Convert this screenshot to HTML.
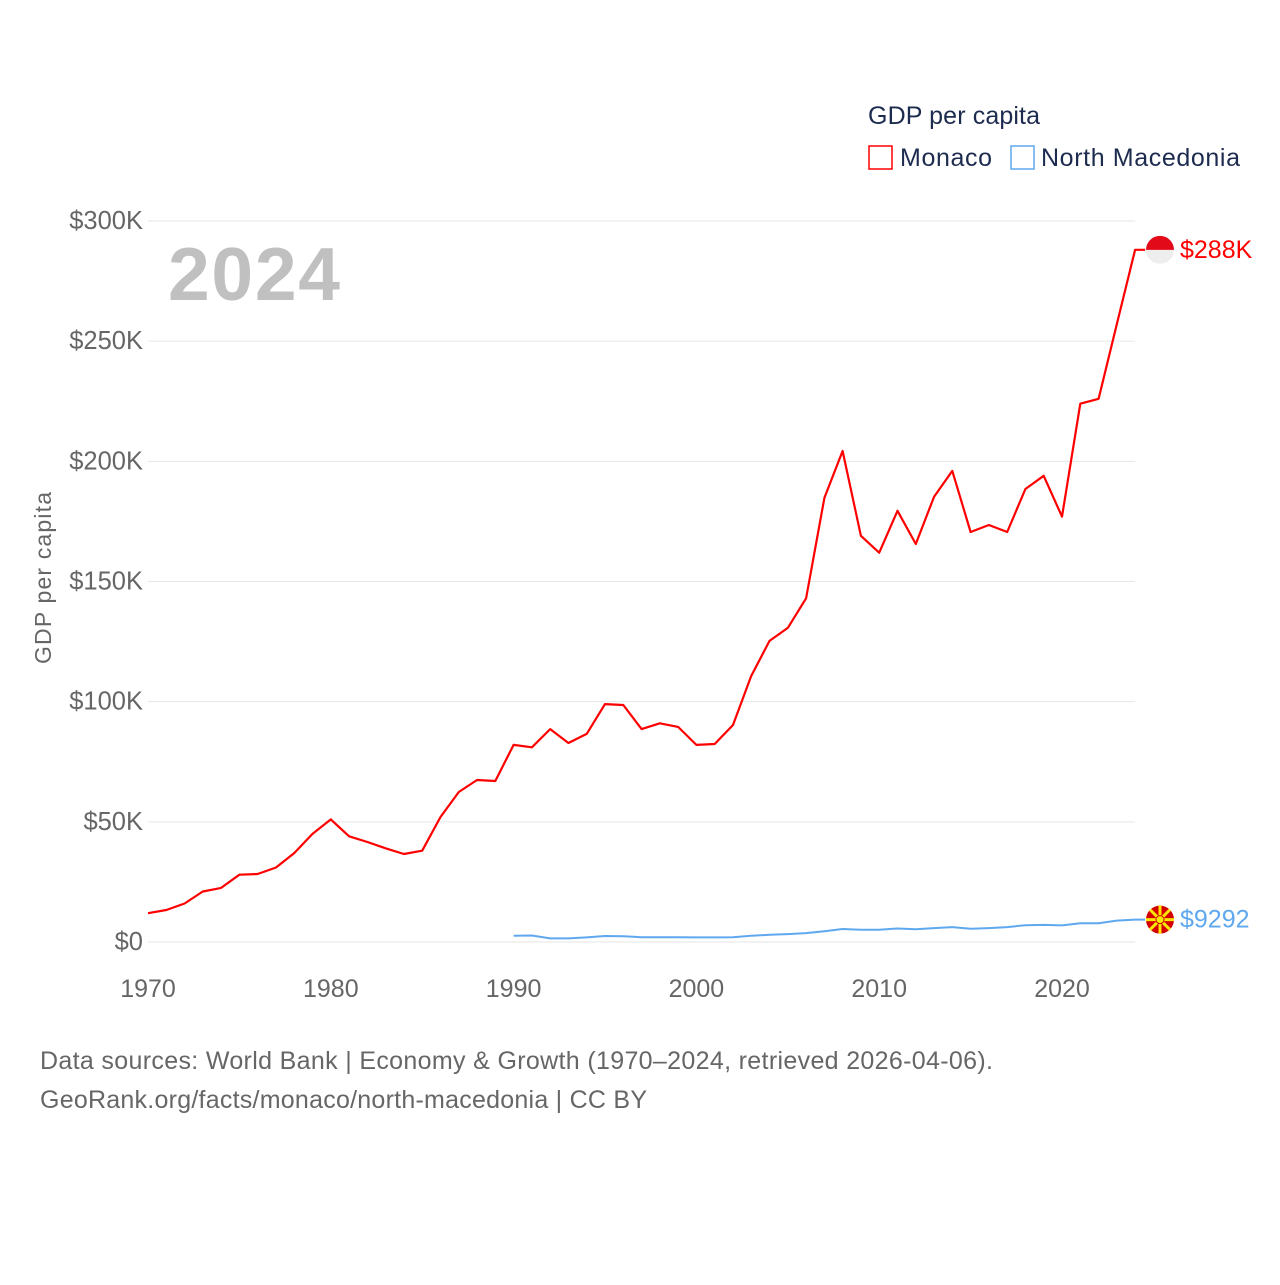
<!DOCTYPE html>
<html><head><meta charset="utf-8"><style>
body{margin:0;background:#fff;}
svg text{font-family:"Liberation Sans",sans-serif;}
</style></head><body>
<svg width="1280" height="1280" viewBox="0 0 1280 1280" id="chart">
<text x="868" y="124" font-size="25" fill="#1d2b4f" textLength="172">GDP per capita</text>
<rect x="869" y="146" width="23" height="23" fill="none" stroke="#ff0000" stroke-width="1.5"/>
<text x="900" y="166" font-size="25" fill="#1d2b4f" textLength="92">Monaco</text>
<rect x="1011" y="146" width="23" height="23" fill="none" stroke="#5fa8ef" stroke-width="1.5"/>
<text x="1041" y="166" font-size="25" fill="#1d2b4f" textLength="199">North Macedonia</text>
<text x="168" y="300" font-size="75" font-weight="bold" fill="#c0c0c0" textLength="172">2024</text>
<text transform="translate(51,578) rotate(-90)" text-anchor="middle" font-size="23" fill="#666" textLength="172">GDP per capita</text>
<g id="grid"></g><g id="lines"></g>
<text x="40" y="1069" font-size="25" fill="#666" textLength="953">Data sources: World Bank | Economy &amp; Growth (1970–2024, retrieved 2026-04-06).</text>
<text x="40" y="1108" font-size="25" fill="#666" textLength="607">GeoRank.org/facts/monaco/north-macedonia | CC BY</text>
</svg>
<script>
const years=[];for(let y=1970;y<=2024;y++)years.push(y);
const monaco=[12,13.3,16,21,22.5,28,28.3,31,37,45,51,44,41.6,39,36.6,38,52,62.4,67.4,67,82,81,88.6,82.8,86.6,99,98.6,88.6,91,89.5,82,82.4,90.3,110.7,125.3,130.7,143,184.8,204.3,169,162,179.4,165.6,185.2,196,170.6,173.5,170.6,188.5,194,177,224,226,257,288];
const mkdYears=[];for(let y=1990;y<=2024;y++)mkdYears.push(y);
const macedonia=[2.6,2.7,1.5,1.5,1.9,2.5,2.4,2.0,2.0,2.0,1.9,1.9,2.0,2.6,3.0,3.3,3.7,4.5,5.4,5.1,5.1,5.6,5.3,5.8,6.2,5.5,5.8,6.2,7.0,7.1,6.9,7.8,7.8,8.9,9.3];
const yTicks=[0,50,100,150,200,250,300];
const yTickLabels=["$0","$50K","$100K","$150K","$200K","$250K","$300K"];
const xTicks=[1970,1980,1990,2000,2010,2020];
const NS="http://www.w3.org/2000/svg";
const X=y=>148+(y-1970)*(1062-148)/50;
const Y=v=>942-v*(942-221)/300;
const g=document.getElementById('grid'),L=document.getElementById('lines');
function el(t,a,p){const e=document.createElementNS(NS,t);for(const k in a)e.setAttribute(k,a[k]);p.appendChild(e);return e;}
yTicks.forEach((v,i)=>{
 const l=el('line',{x1:148,x2:1135,y1:Y(v),y2:Y(v),stroke:'#e6e6e6','stroke-width':1},g);
 
 
 const t=el('text',{x:143,y:Y(v)+8,'text-anchor':'end','font-size':25.5,fill:'#666'},g);t.textContent=yTickLabels[i];
 
 
});
xTicks.forEach(v=>{
 const t=el('text',{x:X(v),y:997,'text-anchor':'middle','font-size':25,fill:'#666'},g);t.textContent=v;
 
 
});
function line(xs,vs,c,name,w){
 const d=vs.map((v,i)=>(i?'L':'M')+X(xs[i]).toFixed(1)+','+Y(v).toFixed(1)).join('')+'L'+(X(xs[xs.length-1])+10)+','+Y(vs[vs.length-1]).toFixed(1);
 const p=el('path',{d:d,fill:'none',stroke:c,'stroke-width':w,'stroke-linejoin':'round'},L);
 
 
}
line(years,monaco,'#ff0000','monaco-line',2.2);
line(mkdYears,macedonia,'#5fa8ef','north-macedonia-line',2);
const my=Y(monaco[monaco.length-1]);
const f1=el('g',{},L);


el('circle',{cx:1160,cy:my,r:14,fill:'#eee'},f1);
el('path',{d:`M1146,${my}A14,14 0 0 1 1174,${my}Z`,fill:'#e20919'},f1);
const t1=el('text',{x:1180,y:my+8,'font-size':25,fill:'#ff0000'},L);t1.textContent='$288K';


const ny=Y(macedonia[macedonia.length-1]);
const f2=el('g',{},L);


el('circle',{cx:1160,cy:ny,r:14,fill:'#d20000'},f2);
for(let a=0;a<8;a++){const r=a*Math.PI/4;el('line',{x1:1160,y1:ny,x2:1160+14*Math.cos(r),y2:ny+14*Math.sin(r),stroke:'#ffe600','stroke-width':3},f2);}
el('circle',{cx:1160,cy:ny,r:4,fill:'#ffe600',stroke:'#d20000','stroke-width':1},f2);
const t2=el('text',{x:1180,y:ny+8,'font-size':25,fill:'#5fa8ef'},L);t2.textContent='$9292';


</script>
</body></html>
